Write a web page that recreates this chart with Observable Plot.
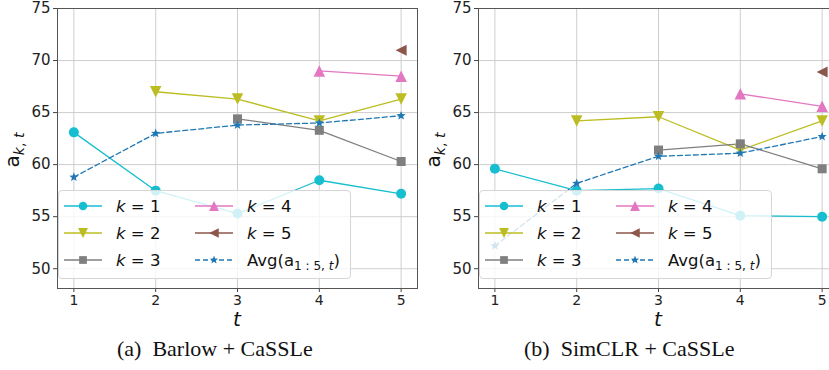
<!DOCTYPE html>
<html><head><meta charset="utf-8">
<script src="https://cdn.jsdelivr.net/npm/d3@7"></script>
<script src="https://cdn.jsdelivr.net/npm/@observablehq/plot@0.6"></script>
<style>
html,body{margin:0;padding:0;background:#fff;}
body{width:829px;height:370px;overflow:hidden;position:relative;font-family:"DejaVu Sans",sans-serif;}
.panel{position:absolute;top:0;width:420px;height:335px;}
.legend{position:absolute;left:58px;top:190px;width:293px;height:89px;background:rgba(255,255,255,0.8);border:1px solid #d6d6d6;border-radius:4px;box-sizing:border-box;}
.legend svg{position:absolute;left:-1px;top:-1px;overflow:visible;}
.caption{position:absolute;top:336px;font-family:"Liberation Serif","Times New Roman",serif;font-size:22px;color:#111;white-space:pre;}
</style></head><body>
<div id="p0" class="panel" style="left:0px"></div>
<div id="p1" class="panel" style="left:421px"></div>
<div class="caption" style="left:117px">(a)  Barlow + CaSSLe</div>
<div class="caption" style="left:524px">(b)  SimCLR + CaSSLe</div>
<script>
// ---- data ----
const steps = [1, 2, 3, 4, 5];
const yTicks = [50, 55, 60, 65, 70, 75];
const seriesKeys = ["k1", "k2", "k3", "k4", "k5", "avg"];
const colors = ["#17becf", "#bcbd22", "#7f7f7f", "#e377c2", "#8c564b", "#1f77b4"];

// Barlow + CaSSLe (series k starts at t = k)
const barlowK1 = [63.1, 57.5, 55.3, 58.5, 57.2];
const barlowK2 = [67.0, 66.3, 64.2, 66.3];
const barlowK3 = [64.4, 63.3, 60.3];
const barlowK4 = [69.0, 68.5];
const barlowK5 = [71.0];
const barlowAvg = [58.8, 63.0, 63.8, 64.0, 64.7];

// SimCLR + CaSSLe
const simclrK1 = [59.6, 57.5, 57.7, 55.1, 55.0];
const simclrK2 = [64.2, 64.6, 61.4, 64.2];
const simclrK3 = [61.4, 62.0, 59.6];
const simclrK4 = [66.8, 65.6];
const simclrK5 = [68.9];
const simclrAvg = [52.2, 58.2, 60.8, 61.1, 62.7];

// ---- custom marker symbols ----
const R = s => Math.sqrt(s / Math.PI);
const symCircle = {draw(c, s){ const r = R(s); c.moveTo(r, 0); c.arc(0, 0, r, 0, 2*Math.PI); }};
const symTriDown = {draw(c, s){ const r = R(s)*1.15; c.moveTo(0, r); c.lineTo(-r, -r); c.lineTo(r, -r); c.closePath(); }};
const symTriUp = {draw(c, s){ const r = R(s)*1.15; c.moveTo(0, -r); c.lineTo(-r, r); c.lineTo(r, r); c.closePath(); }};
const symTriLeft = {draw(c, s){ const r = R(s)*1.1; c.moveTo(-r, 0); c.lineTo(r, -r); c.lineTo(r, r); c.closePath(); }};
const symSquare = {draw(c, s){ const r = R(s)*0.9; c.rect(-r, -r, 2*r, 2*r); }};
const symStar = {draw(c, s){ const r = R(s)*1.05, ri = r*0.42;
  for (let i = 0; i < 10; i++) { const a = -Math.PI/2 + i*Math.PI/5, rr = i%2 ? ri : r;
    const x = rr*Math.cos(a), y = rr*Math.sin(a); i ? c.lineTo(x, y) : c.moveTo(x, y); }
  c.closePath(); }};
const symbols = [symCircle, symTriDown, symSquare, symTriUp, symTriLeft, symStar];
const radii = [5, 5, 5, 5, 5, 4.6];
const legendRadii = [4.3, 4.3, 4.3, 4.3, 4.3, 4.2];

function rowsOf(arrs) {
  const rows = [];
  arrs.forEach((vals, j) => {
    const start = j < 5 ? j : 0;
    vals.forEach((v, i) => rows.push({s: seriesKeys[j], j, t: steps[start + i], v}));
  });
  return rows;
}

function panel(el, arrs) {
  const rows = rowsOf(arrs);
  const marks = [
    Plot.gridX(steps, {stroke: "#c8c8c8", strokeOpacity: 1, strokeWidth: 0.9}),
    Plot.gridY(yTicks, {stroke: "#c8c8c8", strokeOpacity: 1, strokeWidth: 0.9}),
    Plot.axisY(yTicks, {tickSize: 4, tickPadding: 3, fontSize: 15, stroke: "#444", label: null, tickFormat: d => d}),
    Plot.axisX(steps, {tickSize: 4, tickPadding: 3, fontSize: 14, stroke: "#444", label: null, tickFormat: d => d})
  ];
  seriesKeys.forEach((k, j) => {
    const d = rows.filter(r => r.s === k);
    marks.push(Plot.line(d, {x: "t", y: "v", stroke: colors[j], strokeWidth: 1.3,
      strokeDasharray: k === "avg" ? "5,3" : null}));
  });
  seriesKeys.forEach((k, j) => {
    const d = rows.filter(r => r.s === k);
    marks.push(Plot.dot(d, {x: "t", y: "v", fill: colors[j], stroke: "none", r: radii[j], symbol: () => symbols[j]}));
  });
  marks.push(Plot.frame({stroke: "#555", strokeWidth: 1}));
  const svg = Plot.plot({
    width: 420, height: 335,
    marginLeft: 57, marginRight: 3, marginTop: 8, marginBottom: 47,
    style: {fontFamily: "DejaVu Sans", color: "#222", background: "transparent", overflow: "visible"},
    x: {domain: [0.8, 5.2], label: null, axis: null},
    y: {domain: [48.1, 75], label: null, axis: null},
    symbol: {type: "identity"},
    marks
  });
  // axis titles
  const s = d3.select(svg);
  const yl = s.append("text").attr("transform", "translate(19,150) rotate(-90)")
    .attr("text-anchor", "middle").attr("font-family", "DejaVu Sans").attr("fill", "#111");
  yl.append("tspan").attr("font-size", 20).text("a");
  yl.append("tspan").attr("font-size", 14).attr("dy", 5).attr("font-style", "italic").text("k");
  yl.append("tspan").attr("font-size", 14).text(", ");
  yl.append("tspan").attr("font-size", 14).attr("font-style", "italic").text("t");
  s.append("text").attr("x", (57 + 417) / 2).attr("y", 326).attr("text-anchor", "middle")
    .attr("font-family", "DejaVu Sans").attr("font-style", "italic").attr("font-size", 20)
    .attr("fill", "#111").text("t");
  el.appendChild(svg);

  // legend overlay
  const lg = document.createElement("div");
  lg.className = "legend";
  el.appendChild(lg);
  const ls = d3.select(lg).append("svg").attr("width", 300).attr("height", 90);
  const pos = [[0,0],[0,1],[0,2],[1,0],[1,1],[1,2]];
  const labels = [
    ["k", " = 1"], ["k", " = 2"], ["k", " = 3"], ["k", " = 4"], ["k", " = 5"], null
  ];
  seriesKeys.forEach((k, j) => {
    const [c, r] = pos[j];
    const x0 = c ? 137 : 6, y0 = 16 + r * 27;
    const g = ls.append("g");
    g.append("line").attr("x1", x0).attr("x2", x0 + 38).attr("y1", y0).attr("y2", y0)
      .attr("stroke", colors[j]).attr("stroke-width", 1.3)
      .attr("stroke-dasharray", k === "avg" ? "5,3" : null);
    g.append("path").attr("transform", `translate(${x0 + 19},${y0})`)
      .attr("d", d3.symbol().type(symbols[j]).size(Math.PI * legendRadii[j] * legendRadii[j])())
      .attr("fill", colors[j]);
    const t = g.append("text").attr("x", x0 + 52).attr("y", y0 + 6)
      .attr("font-family", "DejaVu Sans").attr("font-size", 16.5).attr("fill", "#111");
    if (labels[j]) {
      t.append("tspan").attr("font-style", "italic").text(labels[j][0]);
      t.append("tspan").text(labels[j][1]);
    } else {
      t.append("tspan").text("Avg(a");
      t.append("tspan").attr("font-size", 12).attr("dy", 4).text("1 : 5, ");
      t.append("tspan").attr("font-size", 12).attr("font-style", "italic").text("t");
      t.append("tspan").attr("dy", -4).text(")");
    }
  });
}

panel(document.getElementById("p0"), [barlowK1, barlowK2, barlowK3, barlowK4, barlowK5, barlowAvg]);
panel(document.getElementById("p1"), [simclrK1, simclrK2, simclrK3, simclrK4, simclrK5, simclrAvg]);
</script>
</body></html>
